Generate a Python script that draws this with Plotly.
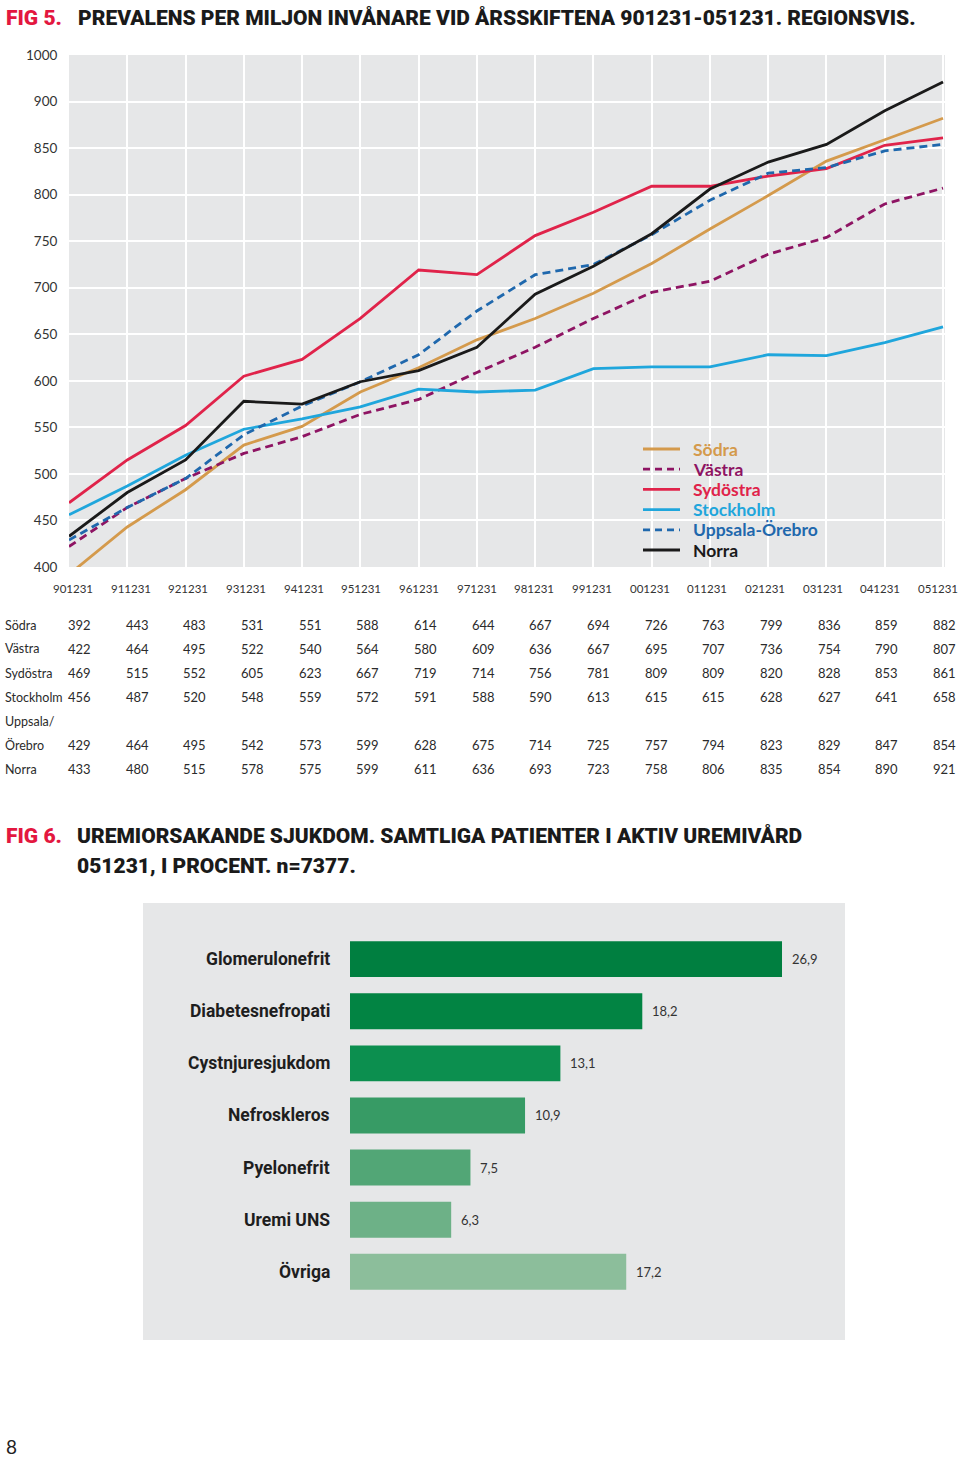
import plotly.graph_objects as go

W, H = 960, 1457

# ---------------- data: Fig 5 ----------------
dates = ["901231", "911231", "921231", "931231", "941231", "951231", "961231", "971231",
         "981231", "991231", "001231", "011231", "021231", "031231", "041231", "051231"]
sodra = [392, 443, 483, 531, 551, 588, 614, 644, 667, 694, 726, 763, 799, 836, 859, 882]
vastra = [422, 464, 495, 522, 540, 564, 580, 609, 636, 667, 695, 707, 736, 754, 790, 807]
sydostra = [469, 515, 552, 605, 623, 667, 719, 714, 756, 781, 809, 809, 820, 828, 853, 861]
stockholm = [456, 487, 520, 548, 559, 572, 591, 588, 590, 613, 615, 615, 628, 627, 641, 658]
uppsala = [429, 464, 495, 542, 573, 599, 628, 675, 714, 725, 757, 794, 823, 829, 847, 854]
norra = [433, 480, 515, 578, 575, 599, 611, 636, 693, 723, 758, 806, 835, 854, 890, 921]

series_names = ["Södra", "Västra", "Sydöstra", "Stockholm", "Uppsala-Örebro", "Norra"]
series_values = [sodra, vastra, sydostra, stockholm, uppsala, norra]
series_colors = ["#d49a4c", "#8e1463", "#e0234a", "#1fa6dc", "#1f68ad", "#1a1a1a"]
series_dash = ["solid", "8px,5px", "solid", "solid", "8px,5px", "solid"]

y_tickvals = [400, 450, 500, 550, 600, 650, 700, 750, 800, 850, 900, 950]
y_ticktext = ["400", "450", "500", "550", "600", "650", "700", "750", "800", "850", "900", "1000"]

table_labels = ["Södra", "Västra", "Sydöstra", "Stockholm", "Uppsala/", "Örebro", "Norra"]
table_rows = [sodra, vastra, sydostra, stockholm, None, uppsala, norra]

# ---------------- data: Fig 6 ----------------
diseases = ["Glomerulonefrit", "Diabetesnefropati", "Cystnjuresjukdom", "Nefroskleros",
            "Pyelonefrit", "Uremi UNS", "Övriga"]
percent = [26.9, 18.2, 13.1, 10.9, 7.5, 6.3, 17.2]
bar_colors = ["#007f40", "#028443", "#0c8f4f", "#379b65", "#52a676", "#6db187", "#8cbe9b"]


def px(p):
    return p / W


def py(p):
    return 1 - p / H


BG = "#e6e7e8"
BODY = "Lato, 'Noto Sans', sans-serif"
HEAD = "Roboto, 'Liberation Sans', sans-serif"

fig = go.Figure()

for name, vals, col, dash in zip(series_names, series_values, series_colors, series_dash):
    fig.add_trace(go.Scatter(
        x=dates, y=vals, mode="lines", xaxis="x", yaxis="y",
        line=dict(color=col, width=2.8, dash=dash),
        name=name, showlegend=False,
    ))

# bars
idx = list(range(len(diseases)))
fig.add_trace(go.Bar(
    x=percent, y=idx, orientation="h", xaxis="x2", yaxis="y2",
    marker=dict(color=bar_colors, line=dict(width=0)), width=0.69,
    showlegend=False,
))

annotations = []
shapes = []

# manual legend (keys + coloured names)
leg_y0, leg_dy = 449, 20.2
for i, (name, col, dash) in enumerate(zip(series_names, series_colors, series_dash)):
    yy = leg_y0 + i * leg_dy
    shapes.append(dict(type="line", xref="paper", yref="paper",
                       x0=px(643), x1=px(680), y0=py(yy), y1=py(yy),
                       line=dict(color=col, width=2.8,
                                 dash="solid" if dash == "solid" else "7px,5px")))
    annotations.append(dict(x=px(691), y=py(yy), xref="paper", yref="paper",
                            text=name, showarrow=False, xanchor="left", yanchor="middle",
                            font=dict(family=BODY, size=17.5, color=col, weight=700)))

# x category labels (slightly tighter spacing than the grid, as in the original)
for i, d in enumerate(dates):
    annotations.append(dict(x=px(73 + 57.67 * i), y=py(588), xref="paper", yref="paper",
                            text=d, showarrow=False, xanchor="center", yanchor="middle",
                            font=dict(family=BODY, size=11.5, color="#333333")))

# bar category labels + values
for i, (d, v) in enumerate(zip(diseases, percent)):
    annotations.append(dict(x=0, y=i, xref="x2", yref="y2", text=d, showarrow=False,
                            xanchor="right", yanchor="middle", xshift=-18,
                            font=dict(family=HEAD, size=17.5, color="#1e1e1e", weight=700)))
    annotations.append(dict(x=v, y=i, xref="x2", yref="y2",
                            text=f"{v:.1f}".replace(".", ","), showarrow=False,
                            xanchor="left", yanchor="middle", xshift=8,
                            font=dict(family=BODY, size=13, color="#333333")))

# table
row_y = [625, 649, 673, 697, 721, 745, 769]
for lab, vals, yy in zip(table_labels, table_rows, row_y):
    annotations.append(dict(x=px(3), y=py(yy), xref="paper", yref="paper", text=lab,
                            showarrow=False, xanchor="left", yanchor="middle",
                            font=dict(family=BODY, size=12.5, color="#2b2b2b")))
    if vals is None:
        continue
    for i, v in enumerate(vals):
        annotations.append(dict(x=px(79.5 + 57.66 * i), y=py(yy), xref="paper", yref="paper",
                                text=str(v), showarrow=False, xanchor="center",
                                yanchor="middle",
                                font=dict(family=BODY, size=13, color="#2b2b2b")))

# titles
RED = "#e3173f"
TFONT = 21
annotations += [
    dict(x=px(4), y=py(18), xref="paper", yref="paper", text="FIG 5.", showarrow=False,
         xanchor="left", yanchor="middle",
         font=dict(family=HEAD, size=TFONT, color=RED, weight=900)),
    dict(x=px(76), y=py(18), xref="paper", yref="paper",
         text="PREVALENS PER MILJON INVÅNARE VID ÅRSSKIFTENA 901231-051231. REGIONSVIS.",
         showarrow=False, xanchor="left", yanchor="middle",
         font=dict(family=HEAD, size=TFONT, color="#1a1a1a", weight=900)),
    dict(x=px(4), y=py(836), xref="paper", yref="paper", text="FIG 6.", showarrow=False,
         xanchor="left", yanchor="middle",
         font=dict(family=HEAD, size=TFONT, color=RED, weight=900)),
    dict(x=px(75), y=py(836), xref="paper", yref="paper",
         text="UREMIORSAKANDE SJUKDOM. SAMTLIGA PATIENTER I AKTIV UREMIVÅRD",
         showarrow=False, xanchor="left", yanchor="middle",
         font=dict(family=HEAD, size=TFONT, color="#1a1a1a", weight=900)),
    dict(x=px(75), y=py(866), xref="paper", yref="paper",
         text="051231, I PROCENT. n=7377.",
         showarrow=False, xanchor="left", yanchor="middle",
         font=dict(family=HEAD, size=TFONT, color="#1a1a1a", weight=900)),
    dict(x=px(4), y=py(1446), xref="paper", yref="paper", text="8", showarrow=False,
         xanchor="left", yanchor="middle", font=dict(family=BODY, size=19, color="#222222")),
]

bar_scale = 16.06  # px per percent unit
fig.update_layout(
    width=W, height=H, autosize=False,
    margin=dict(l=0, r=0, t=0, b=0, autoexpand=False),
    paper_bgcolor="white", plot_bgcolor=BG,
    separators=", ",
    showlegend=False,
    xaxis=dict(domain=[px(69), px(945)], type="category", range=[0, 15.034],
               showgrid=True, gridcolor="white", gridwidth=2, zeroline=False,
               showline=False, showticklabels=False, automargin=False, fixedrange=True),
    yaxis=dict(domain=[py(567), py(55)], range=[400, 950],
               tickvals=y_tickvals, ticktext=y_ticktext, automargin=False,
               showgrid=True, gridcolor="white", gridwidth=2, zeroline=False,
               showline=False, ticks="outside", ticklen=8, tickcolor="rgba(0,0,0,0)",
               tickfont=dict(family=BODY, size=13.5, color="#333333")),
    xaxis2=dict(domain=[px(143), px(845)], anchor="y2", automargin=False,
                range=[-(350 - 143) / bar_scale, (845 - 350) / bar_scale],
                showgrid=False, zeroline=False, showticklabels=False, showline=False),
    yaxis2=dict(domain=[py(1340), py(903)], anchor="x2", automargin=False,
                range=[6 + 68 / 52, -56 / 52],
                showgrid=False, zeroline=False, showticklabels=False, showline=False),
    annotations=annotations,
    shapes=shapes,
)

fig.write_html("out.html",
               config={"displayModeBar": False},
               post_script="document.body.style.margin='0px';"
                           "document.body.style.overflow='hidden';")
